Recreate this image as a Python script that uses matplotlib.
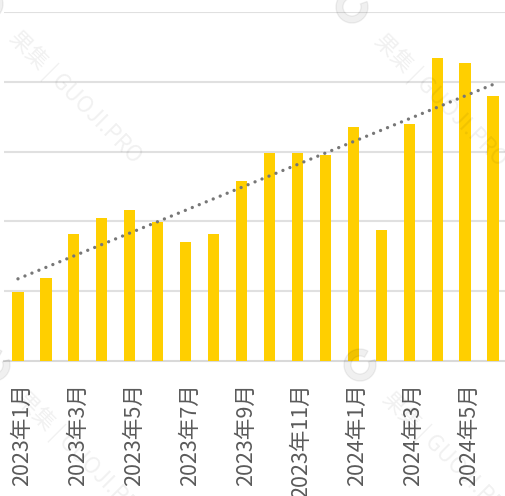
import numpy as np
import matplotlib
matplotlib.use("Agg")
import matplotlib.pyplot as plt
from matplotlib.patches import Wedge
from matplotlib.transforms import ScaledTranslation

plt.rcParams['font.family'] = ['Noto Sans CJK SC', 'DejaVu Sans']

months = [f"2023年{m}月" for m in range(1, 13)] + [f"2024年{m}月" for m in range(1, 7)]
values = [0.99, 1.19, 1.82, 2.05, 2.16, 1.99, 1.70, 1.82, 2.58,
          2.98, 2.98, 2.95, 3.35, 1.88, 3.40, 4.34, 4.27, 3.80]
tick_idx = list(range(0, 18, 2))
tick_labels = [months[i] for i in tick_idx]

W, H = 505, 496
fig = plt.figure(figsize=(W / 100, H / 100), dpi=100)
ax = fig.add_axes([4 / W, (H - 361) / H, 503 / W, 349 / H])

x = np.arange(len(values))
ax.bar(x, values, width=0.4, color='#FFCF00', zorder=3)

# linear trend over all months
k, b = np.polyfit(x, values, 1)
ax.plot(x, k * x + b, color='#777777', lw=2.4,
        linestyle=(0, (0.01, 2.25)), dash_capstyle='round', zorder=4)

ax.set_xlim(-0.5, 17.5)
ax.set_ylim(0, 5)
ax.set_yticks([1, 2, 3, 4, 5])
ax.yaxis.grid(True, color='#e0e0e0', lw=1.5, zorder=0)
ax.tick_params(axis='y', left=False, labelleft=False)
for s in ['top', 'right', 'left']:
    ax.spines[s].set_visible(False)
ax.spines['bottom'].set_color('#d9d9d9')
ax.spines['bottom'].set_linewidth(1.5)
ax.set_xticks(tick_idx)
ax.set_xticklabels(tick_labels, rotation=90, fontsize=15.5, color='#5a5a5a',
                   fontweight='light')
ax.tick_params(axis='x', length=0, pad=16)
shift = ScaledTranslation(4 / 100, 0, fig.dpi_scale_trans)
for lbl in ax.get_xticklabels():
    lbl.set_transform(lbl.get_transform() + shift)

# watermark
wm_centers = [(75, 97), (440, 100), (448, 458), (82, 458)]
for cx, cy in wm_centers:
    fig.text(cx / W, 1 - cy / H, "果集 | GUOJI.PRO", rotation=-45,
             rotation_mode='anchor', ha='center', va='center',
             fontsize=16, color='#000000', alpha=0.06, zorder=10)
    lx, ly = cx - 88, cy - 93
    ring = Wedge((lx, H - ly), 16, 60, 380, width=7,
                 transform=None, color='#000000', alpha=0.06, zorder=10)
    fig.patches.append(ring)

fig.savefig("out.png", dpi=100)
